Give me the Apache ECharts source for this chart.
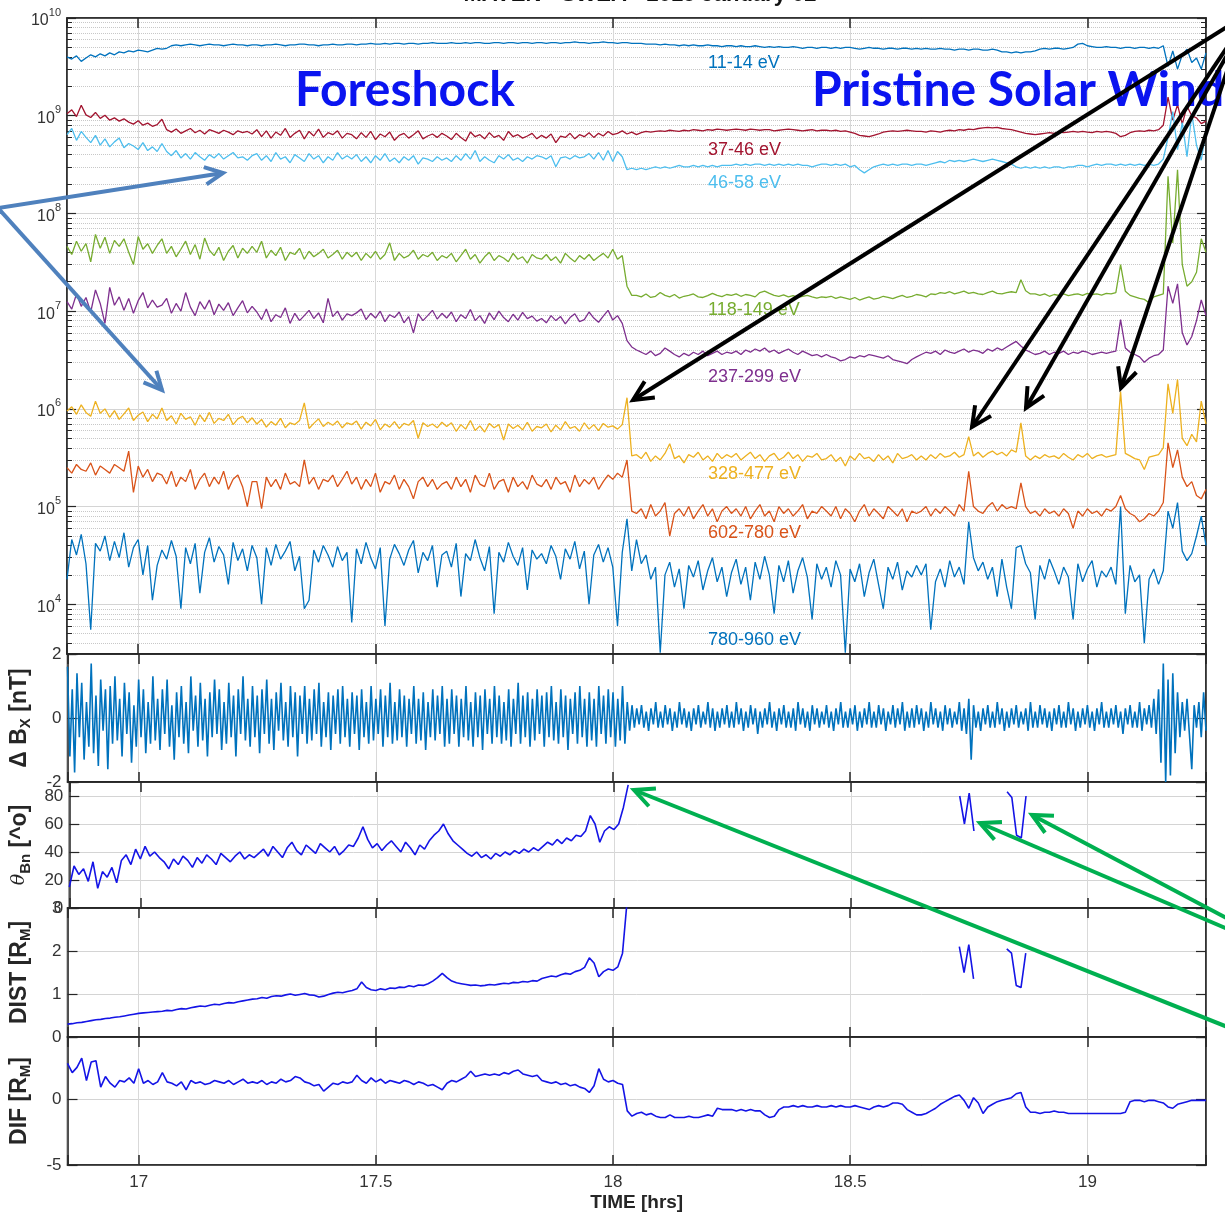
<!DOCTYPE html>
<html>
<head>
<meta charset="utf-8">
<script src="https://cdn.jsdelivr.net/npm/echarts@6/dist/echarts.min.js"></script>
<style>html,body{margin:0;padding:0;background:#fff}#main{width:1225px;height:1216px}</style>
</head>
<body>
<div id="main"></div>
<script>
// sampling of the time axis [hrs]
var T0 = 16.85;
var DT = 0.01;     // spectra, theta, dist, dif
var DT_B = 0.005;  // magnetic field

// SWEA energy flux, one list per energy band (units noted on each)
var flux11 = [ // x1e9
  4.0,3.8,4.1,3.6,3.9,4.2,4.0,4.3,4.1,4.4,4.2,4.5,4.4,4.6,4.5,4.7,4.6,4.5,4.7,4.9,
  4.8,4.9,5.2,5.3,5.2,5.3,5.4,5.3,5.2,5.3,5.4,5.3,5.3,5.2,5.3,5.4,5.3,5.3,5.2,5.3,
  5.3,5.2,5.3,5.3,5.4,5.3,5.2,5.3,5.3,5.4,5.4,5.3,5.3,5.2,5.3,5.3,5.4,5.3,5.3,5.4,
  5.4,5.3,5.4,5.4,5.5,5.4,5.4,5.5,5.4,5.5,5.5,5.4,5.5,5.5,5.4,5.5,5.5,5.6,5.5,5.5,
  5.5,5.6,5.5,5.5,5.6,5.5,5.6,5.6,5.5,5.5,5.6,5.6,5.5,5.6,5.6,5.5,5.6,5.6,5.5,5.6,
  5.6,5.5,5.6,5.6,5.5,5.6,5.6,5.7,5.6,5.6,5.5,5.6,5.6,5.7,5.6,5.6,5.5,5.6,5.6,5.5,
  5.5,5.5,5.4,5.4,5.4,5.3,5.4,5.3,5.3,5.2,5.3,5.2,5.3,5.2,5.2,5.3,5.2,5.2,5.1,5.2,
  5.2,5.1,5.2,5.1,5.1,5.2,5.1,5.0,5.1,5.0,5.1,5.0,5.0,5.1,5.0,4.9,5.0,5.0,4.9,5.0,
  5.0,4.9,5.0,4.9,5.0,5.0,4.9,4.8,4.9,5.0,4.9,4.9,4.8,4.9,4.9,4.8,4.9,4.9,4.8,4.9,
  4.8,4.9,4.8,4.8,4.9,4.8,4.8,4.7,4.8,4.8,4.7,4.8,4.8,4.7,4.7,4.8,4.7,4.5,4.5,4.4,
  4.5,4.4,4.5,4.5,4.6,4.8,4.9,4.8,4.9,4.9,4.8,4.9,5.0,5.4,5.5,5.2,5.1,5.0,5.0,5.1,
  5.0,5.0,4.9,5.0,5.0,4.9,5.0,5.0,4.9,5.0,4.9,5.2,3.2,4.6,3.0,4.2,4.8,3.5,3.9,3.0,
  4.4
];
var flux37 = [ // x1e8
  10.5,11.5,9.8,12.8,10.2,9.6,10.8,9.4,10.1,9.0,9.5,8.8,9.3,8.6,8.2,8.9,8.0,8.4,7.8,8.1,
  9.2,7.2,6.8,7.3,6.6,7.0,7.4,6.7,7.1,6.5,7.2,6.9,6.6,7.1,6.8,6.4,7.0,6.7,6.9,6.5,
  7.2,6.1,7.0,5.9,6.8,6.3,7.4,6.0,6.6,7.1,5.8,6.9,6.2,7.3,6.0,6.7,6.4,7.0,5.9,6.6,
  6.4,5.8,6.7,6.0,6.9,5.7,6.5,6.1,6.8,5.6,6.3,6.6,5.9,6.4,7.0,5.8,6.2,6.5,6.0,6.6,
  6.2,5.7,6.6,6.0,5.5,6.8,6.1,6.4,5.8,6.7,6.0,6.3,5.6,6.9,6.1,6.4,5.9,6.2,6.6,5.8,
  6.3,5.9,6.5,5.3,6.2,6.0,6.6,5.8,6.4,6.1,6.7,6.0,6.6,6.2,6.9,6.4,6.6,7.0,6.5,6.8,
  6.4,6.7,6.9,6.8,6.9,7.0,6.9,7.1,7.0,6.9,7.1,7.0,7.2,7.1,7.0,7.2,7.1,7.3,7.2,7.1,
  7.2,7.3,7.2,7.1,7.3,7.2,7.1,7.2,7.2,7.0,7.1,7.2,7.3,7.2,7.1,7.0,7.1,7.2,7.0,7.1,
  7.1,7.0,7.1,6.9,7.0,6.8,6.6,6.3,6.2,6.1,6.3,6.5,6.8,6.9,7.0,6.9,7.0,7.1,7.0,6.9,
  6.9,6.8,7.0,6.9,6.8,7.0,7.1,7.0,7.2,7.1,7.3,7.2,7.4,7.5,7.6,7.5,7.6,7.4,7.3,7.2,
  7.0,6.8,6.6,6.5,6.4,6.5,6.6,6.7,6.6,6.8,6.7,6.8,6.9,6.8,6.9,6.8,6.7,6.9,6.8,6.9,
  6.8,6.6,6.1,6.3,6.7,6.9,7.0,6.9,7.1,7.0,7.2,8.0,15.5,9.0,13.0,8.2,12.5,10.0,9.5,8.3,
  8.8
];
var flux46 = [ // x1e8
  6.4,7.4,5.6,6.9,6.0,5.3,6.3,5.0,5.8,4.8,5.4,5.9,4.7,5.2,4.9,4.5,5.3,4.4,4.8,4.3,
  5.2,4.3,3.9,4.4,3.7,4.1,3.6,4.2,3.8,3.5,4.0,3.7,4.1,3.6,3.9,4.2,3.7,3.8,3.5,3.9,
  4.1,3.5,3.9,3.4,4.2,3.6,3.8,3.3,4.0,3.7,3.4,4.1,3.6,3.9,3.3,3.8,3.5,4.2,3.6,3.9,
  3.6,4.0,3.4,3.8,3.3,3.9,3.5,4.1,3.4,3.7,3.3,3.8,3.5,3.9,3.2,3.7,3.6,3.4,3.8,3.5,
  3.7,3.4,3.9,3.5,4.1,3.6,4.4,3.4,3.8,3.5,3.3,3.9,3.6,4.0,3.5,3.7,3.4,3.8,3.6,3.9,
  3.8,3.6,3.9,3.0,3.7,3.8,3.6,3.9,3.7,3.8,4.1,3.6,4.2,3.5,4.4,3.4,4.3,3.8,2.8,2.9,
  2.8,2.9,2.8,2.9,3.0,2.9,3.0,2.9,3.0,3.1,3.0,3.0,3.1,3.0,3.1,3.0,3.1,3.0,3.1,3.1,
  3.1,3.2,3.1,3.2,3.1,3.2,3.2,3.1,3.2,3.1,3.2,3.1,3.2,3.1,3.2,3.1,3.1,3.0,3.1,3.2,
  3.2,3.1,3.2,3.1,3.2,3.0,3.1,2.8,2.6,2.8,3.0,3.1,3.2,3.1,3.2,3.1,3.2,3.2,3.1,3.2,
  3.2,3.1,3.2,3.3,3.4,3.3,3.5,3.4,3.5,3.4,3.5,3.6,3.5,3.4,3.5,3.6,3.5,3.4,3.3,3.2,
  3.0,2.9,3.0,2.9,3.0,2.9,3.0,2.9,3.0,3.0,2.9,3.0,3.0,3.1,3.1,3.0,3.1,3.2,3.1,3.2,
  3.2,3.1,3.2,3.1,3.2,3.1,3.2,3.1,3.2,3.1,3.2,3.6,6.0,11.0,4.5,8.5,3.8,10.5,5.0,3.5,
  7.0
];
var flux118 = [ // x1e7
  4.6,3.8,5.2,4.1,4.9,3.2,6.1,4.4,5.7,3.9,5.3,4.6,5.5,4.0,3.0,5.8,4.3,4.9,3.9,4.7,
  5.5,3.9,4.6,3.6,4.3,5.2,3.8,4.8,3.4,5.6,4.2,3.7,4.5,3.3,4.1,4.7,3.5,4.4,3.9,4.6,
  4.0,5.2,3.5,4.2,3.7,4.5,3.3,4.0,3.8,4.4,3.4,4.1,3.6,3.9,4.3,3.5,3.8,4.2,3.4,4.0,
  3.6,4.0,3.3,3.9,3.5,4.1,3.4,3.8,5.0,3.3,3.9,3.5,3.7,4.2,3.4,3.8,3.6,4.0,3.3,3.7,
  3.5,3.9,3.2,3.7,4.3,3.4,3.8,3.1,3.6,4.0,3.3,3.7,3.5,3.2,3.9,3.4,3.6,3.1,3.8,3.5,
  3.4,3.8,3.3,3.6,3.1,3.9,3.5,3.2,3.7,3.4,3.8,3.3,3.6,3.9,3.5,4.3,3.4,3.7,1.8,1.45,
  1.45,1.4,1.5,1.38,1.42,1.55,1.45,1.4,1.48,1.36,1.42,1.45,1.5,1.4,1.38,1.44,1.52,1.45,1.41,1.48,
  1.45,1.5,1.42,1.48,1.45,1.4,1.55,1.6,1.52,1.45,1.42,1.47,1.4,1.44,1.38,1.42,1.45,1.4,1.36,1.4,
  1.38,1.42,1.35,1.4,1.36,1.32,1.38,1.3,1.35,1.4,1.33,1.36,1.42,1.38,1.34,1.4,1.45,1.38,1.42,1.48,
  1.45,1.4,1.5,1.48,1.55,1.52,1.58,1.5,1.55,1.6,1.52,1.56,1.5,1.48,1.55,1.6,1.52,1.5,1.55,1.58,
  1.55,2.1,1.62,1.5,1.5,1.45,1.5,1.42,1.48,1.45,1.5,1.44,1.48,1.5,1.45,1.52,1.48,1.5,1.46,1.52,
  1.5,1.55,3.0,1.6,1.45,1.4,1.35,1.32,1.22,1.4,1.45,1.5,24,5.0,28,3.0,1.8,2.0,2.5,5.5,
  4.0
];
var flux237 = [ // x1e6
  12.5,10.5,15.0,11.2,13.8,9.8,16.5,12.0,7.5,17.5,11.5,14.0,10.2,13.5,9.5,12.8,15.5,10.8,13.0,11.0,
  11.5,13.5,9.5,12.0,10.0,15.5,11.0,9.0,12.5,10.5,13.0,9.2,11.8,10.2,12.2,9.0,10.8,12.8,9.6,11.2,
  9.8,8.2,10.5,7.8,9.2,8.6,10.8,7.5,9.5,8.0,9.0,10.2,8.4,9.6,7.6,13.5,8.8,10.0,8.1,9.4,
  9.0,9.6,10.5,8.2,9.5,8.5,10.0,7.8,9.2,8.6,9.8,7.6,8.8,6.0,9.4,8.0,9.0,10.2,8.3,9.5,
  8.5,9.8,7.8,9.2,8.4,10.4,8.0,9.0,7.5,9.6,8.2,10.0,8.6,7.8,9.3,8.1,9.7,8.4,8.9,7.9,
  8.4,7.6,9.0,8.0,8.8,7.4,8.6,9.4,7.8,8.2,9.8,8.5,7.7,8.9,10.2,8.1,9.0,7.5,5.0,4.3,
  4.0,3.8,3.6,3.9,3.5,3.7,4.2,3.9,3.6,3.4,3.7,3.5,3.8,3.6,3.9,3.5,3.7,3.9,3.6,3.8,
  3.7,3.9,3.6,4.0,3.8,4.1,3.9,4.2,3.8,4.0,3.7,3.9,4.1,3.8,3.6,3.9,3.7,3.5,3.6,3.4,
  3.6,3.4,3.3,3.1,3.2,3.4,3.3,3.5,3.4,3.6,3.5,3.4,3.3,3.5,3.2,3.1,3.0,2.9,3.2,3.4,
  3.6,3.8,3.7,3.9,3.6,4.0,3.8,3.7,3.9,4.1,3.8,4.0,3.9,3.7,4.1,3.9,4.2,4.0,4.3,4.6,
  4.9,4.4,4.0,3.8,3.6,3.7,3.9,3.6,3.8,3.7,3.9,3.6,3.8,3.7,3.9,3.8,3.6,3.7,3.8,3.7,
  3.8,3.9,8.2,4.2,3.8,3.6,3.4,3.0,3.3,3.5,3.6,4.0,18.0,12.0,19.0,6.0,4.5,5.5,8.0,13.0,
  9.0
];
var flux328 = [ // x1e5
  9.5,10.5,8.8,11.0,9.2,8.4,12.0,9.0,10.0,8.2,9.6,7.8,8.9,10.2,7.6,8.6,9.3,7.4,8.8,7.9,
  10.2,7.6,8.5,7.0,9.0,7.8,8.3,6.8,8.7,7.4,9.2,7.1,8.0,7.6,8.8,6.9,7.9,8.4,7.2,8.1,
  7.0,7.8,6.5,7.4,6.8,8.0,6.4,7.2,6.9,7.6,11.5,6.3,7.1,7.9,6.6,7.3,6.8,7.5,6.4,7.2,
  6.9,7.5,6.2,7.3,6.7,7.8,6.1,7.0,6.5,7.4,6.3,7.1,6.8,7.6,5.0,7.2,6.6,7.0,6.4,7.3,
  6.6,7.2,5.9,6.9,6.2,7.6,6.0,6.7,5.8,7.1,6.4,6.9,4.8,7.0,6.3,6.8,6.1,7.3,5.9,6.6,
  6.4,7.0,5.8,6.8,6.1,7.4,6.3,6.6,5.9,7.2,6.2,6.9,6.0,7.1,6.5,6.7,6.2,6.9,13.0,3.3,
  3.4,3.1,3.6,2.9,3.3,3.0,3.5,4.4,3.1,3.3,2.8,3.4,3.2,3.6,3.0,3.3,2.9,3.5,3.1,3.4,
  3.2,3.5,3.0,3.3,3.6,3.1,3.4,2.9,3.3,3.5,3.0,3.2,3.6,3.1,3.4,2.9,3.3,3.2,3.5,3.0,
  3.1,3.4,2.9,3.2,2.6,3.3,3.0,3.5,3.1,3.2,2.9,3.4,3.0,3.3,2.8,3.5,3.1,3.2,3.4,3.0,
  3.3,3.0,3.4,3.1,3.5,3.2,3.3,3.6,3.2,3.4,5.2,3.3,3.6,3.2,3.5,3.7,3.4,3.6,3.3,3.8,
  3.6,7.2,3.3,3.0,3.3,3.1,3.4,3.2,3.3,3.1,3.5,3.2,3.0,3.4,3.2,3.5,3.1,3.3,3.4,3.2,
  3.3,3.4,15.0,3.5,3.3,3.1,3.0,2.4,3.2,3.3,3.4,4.0,18.0,9.0,20.0,5.0,4.2,5.5,4.6,12.0,
  7.0
];
var flux602 = [ // x1e5
  2.5,2.2,2.7,2.4,2.3,2.8,2.1,2.6,2.4,2.2,2.7,2.5,2.3,3.7,1.4,2.6,2.0,2.4,1.8,2.2,
  2.1,1.7,2.3,1.6,2.0,1.8,2.4,1.5,1.9,2.2,1.6,2.0,1.7,2.3,1.5,1.9,2.1,1.6,1.0,1.8,
  1.8,0.95,2.0,1.6,1.9,1.5,2.2,1.7,1.8,1.6,3.0,1.7,2.0,1.5,1.9,1.8,2.1,1.6,1.9,2.3,
  1.7,2.0,1.5,1.9,1.6,2.2,1.4,1.8,1.7,2.1,1.5,1.9,1.6,1.2,1.8,2.0,1.6,1.9,1.5,1.7,
  1.8,1.5,2.0,1.6,1.9,1.4,2.1,1.7,1.6,2.2,1.5,1.8,1.9,1.4,2.0,1.6,1.8,1.5,2.1,1.7,
  1.6,1.9,1.5,2.0,1.7,1.8,1.4,2.1,1.6,1.9,1.7,2.0,1.5,1.8,2.1,1.9,2.2,2.0,3.0,0.9,
  0.85,0.95,0.75,1.05,0.8,0.9,1.1,0.5,0.85,0.95,0.8,1.0,0.75,0.9,1.05,0.8,0.95,0.7,0.9,1.0,
  0.85,0.95,0.8,1.0,0.75,0.9,1.05,0.8,0.9,0.7,1.0,0.85,0.95,0.8,0.9,1.05,0.75,0.9,0.85,1.0,
  0.9,0.8,1.0,0.75,0.95,0.85,0.7,0.9,1.05,0.8,0.95,0.85,0.75,1.0,0.9,0.8,0.95,0.7,0.9,0.85,
  0.9,1.0,0.8,0.95,0.85,1.0,0.9,0.8,1.05,0.9,2.3,1.0,0.9,0.85,1.0,1.1,0.9,1.05,0.95,1.0,
  0.95,1.75,1.0,0.85,0.9,0.8,0.95,0.85,0.9,0.8,0.95,0.85,0.6,0.9,0.8,0.95,0.85,0.9,0.8,0.95,
  0.9,1.0,1.3,0.95,0.85,0.8,0.7,0.75,0.85,0.8,0.9,1.1,4.5,2.5,3.8,2.0,1.6,1.8,1.3,1.2,
  1.5
];
var flux780 = [ // x1e4
  1.8,4.6,3.2,5.2,2.6,0.55,4.2,3.5,5.0,2.8,4.4,3.0,5.4,2.4,3.8,4.6,2.0,4.0,1.1,2.5,
  3.6,2.9,4.5,3.1,0.9,3.8,2.6,4.2,1.3,3.4,4.8,2.7,3.9,3.2,1.6,4.3,2.8,3.7,2.2,4.0,
  3.0,1.0,3.8,2.5,4.1,2.9,3.5,4.4,2.2,3.1,0.9,1.1,3.6,2.7,4.0,3.2,2.4,3.9,2.8,3.4,
  0.65,3.7,2.6,4.3,3.0,2.3,3.8,0.6,2.9,4.1,3.3,2.5,3.6,4.5,2.1,3.4,2.8,4.0,1.5,3.2,
  3.5,2.4,4.2,1.2,3.3,2.8,4.6,3.0,2.2,3.9,0.8,3.4,2.7,4.3,3.1,2.5,3.8,1.4,3.6,2.9,
  3.3,2.6,4.0,3.1,1.8,3.7,2.9,4.4,2.3,3.5,1.0,3.2,4.1,2.7,3.8,2.4,0.6,3.4,7.5,2.2,
  4.6,2.6,3.2,1.8,2.4,0.32,2.0,2.7,1.5,2.3,0.9,2.5,1.9,2.8,1.4,2.2,3.0,1.7,2.4,1.2,
  2.1,2.9,1.6,2.4,1.1,2.7,1.8,3.1,2.0,0.8,2.5,1.7,2.8,1.3,2.2,3.0,1.9,0.7,2.6,1.8,
  2.4,1.5,2.8,2.0,0.32,2.3,1.7,2.6,1.2,2.1,2.9,1.6,0.9,2.4,1.8,2.7,1.4,2.2,1.9,2.5,
  2.0,2.6,0.55,1.7,2.3,1.5,2.8,1.9,2.4,1.6,7.0,3.0,2.2,2.7,1.8,2.4,1.2,2.9,1.5,0.9,
  3.8,4.0,2.6,2.1,0.7,2.5,1.8,2.9,2.2,1.6,2.4,1.9,0.7,2.6,1.7,2.3,2.8,1.5,2.2,1.9,
  2.4,1.6,10.0,0.8,2.5,1.7,2.0,0.4,1.8,2.3,1.6,2.2,9.0,6.0,11.0,3.5,2.8,3.3,5.0,8.0,
  4.0
];

// magnetic field fluctuation Delta Bx [nT]
var deltaBx = [
  1.6,-1.2,0.9,-1.7,1.4,-0.6,1.1,-1.3,0.5,-0.9,1.7,-1.1,0.7,-1.5,1.2,-0.4,0.9,-1.6,1.0,-0.8,
  1.3,-0.7,0.6,-1.2,1.1,-0.5,0.8,-1.4,0.4,-0.9,1.2,-0.6,0.9,-1.1,0.5,-0.8,1.3,-0.7,0.6,-1.0,
  0.9,-0.5,1.2,-0.9,0.4,-1.3,0.8,-0.6,1.0,-0.8,0.5,-1.1,1.3,-0.4,0.7,-0.9,1.1,-0.7,0.6,-1.2,
  0.8,-0.6,1.2,-0.5,0.9,-1.0,0.5,-0.8,1.1,-0.6,0.7,-1.2,0.9,-0.5,1.3,-0.7,0.6,-0.9,1.0,-0.6,
  0.7,-1.1,0.9,-0.5,1.2,-0.8,0.6,-1.0,0.8,-0.4,1.1,-0.7,0.5,-0.9,1.0,-0.6,0.8,-1.2,0.7,-0.5,
  1.0,-0.8,0.6,-0.7,0.9,-0.5,1.1,-0.9,0.5,-0.6,0.8,-1.0,0.7,-0.5,0.9,-0.8,1.0,-0.6,0.6,-0.9,
  0.8,-0.5,0.7,-1.0,0.9,-0.6,0.5,-0.8,1.0,-0.7,0.6,-0.5,0.9,-0.9,0.7,-0.6,1.1,-0.8,0.5,-0.7,
  0.9,-0.6,0.7,-0.9,0.6,-0.5,1.0,-0.8,0.6,-0.7,0.8,-1.0,0.5,-0.6,0.9,-0.7,0.7,-0.5,1.0,-0.9,
  0.6,-0.8,0.9,-0.5,0.7,-0.9,0.6,-0.6,1.0,-0.7,0.5,-0.9,0.8,-0.6,0.7,-1.0,0.9,-0.5,0.6,-0.8,
  1.0,-0.6,0.7,-0.8,0.5,-0.7,0.9,-0.9,0.6,-0.5,1.1,-0.8,0.7,-0.6,0.8,-0.9,0.6,-0.7,0.9,-0.5,
  0.7,-0.9,0.8,-0.6,1.0,-0.7,0.5,-0.8,0.9,-0.6,0.7,-1.0,0.6,-0.5,0.8,-0.8,1.0,-0.6,0.6,-0.9,
  0.8,-0.7,0.6,-0.9,1.0,-0.5,0.7,-0.8,0.9,-0.6,0.8,-0.9,0.6,-0.7,1.0,-0.8,0.5,-0.4,0.4,-0.3,
  0.3,-0.2,0.4,-0.3,0.2,-0.4,0.3,-0.2,0.5,-0.3,0.2,-0.3,0.4,-0.2,0.3,-0.4,0.2,-0.3,0.5,-0.2,
  0.3,-0.3,0.2,-0.4,0.3,-0.2,0.4,-0.3,0.2,-0.2,0.5,-0.3,0.3,-0.4,0.2,-0.3,0.3,-0.2,0.4,-0.3,
  0.2,-0.3,0.5,-0.2,0.3,-0.4,0.2,-0.3,0.4,-0.2,0.3,-0.5,0.2,-0.3,0.3,-0.2,0.5,-0.3,0.2,-0.4,
  0.3,-0.2,0.4,-0.3,0.2,-0.3,0.3,-0.4,0.5,-0.2,0.3,-0.3,0.2,-0.4,0.4,-0.2,0.3,-0.3,0.2,-0.2,
  0.4,-0.3,0.2,-0.4,0.3,-0.2,0.5,-0.3,0.2,-0.3,0.3,-0.2,0.4,-0.4,0.2,-0.3,0.3,-0.2,0.5,-0.3,
  0.2,-0.3,0.4,-0.2,0.3,-0.4,0.2,-0.2,0.4,-0.3,0.3,-0.2,0.5,-0.4,0.2,-0.3,0.3,-0.3,0.4,-0.2,
  0.3,-0.4,0.2,-0.3,0.5,-0.2,0.3,-0.3,0.2,-0.4,0.4,-0.2,0.3,-0.3,0.2,-0.2,0.5,-0.4,0.3,-0.5,
  0.6,-1.3,0.4,-0.3,0.2,-0.4,0.3,-0.2,0.4,-0.3,0.2,-0.3,0.5,-0.2,0.3,-0.4,0.2,-0.3,0.3,-0.2,
  0.4,-0.3,0.2,-0.2,0.3,-0.4,0.5,-0.3,0.2,-0.3,0.4,-0.2,0.3,-0.3,0.2,-0.4,0.3,-0.2,0.4,-0.3,
  0.2,-0.3,0.5,-0.2,0.3,-0.4,0.2,-0.3,0.3,-0.2,0.4,-0.3,0.2,-0.4,0.3,-0.2,0.5,-0.3,0.2,-0.3,
  0.3,-0.2,0.4,-0.3,0.2,-0.5,0.3,-0.2,0.4,-0.3,0.2,-0.3,0.5,-0.4,0.3,-0.2,0.4,-0.3,0.6,-0.5,
  0.9,-1.4,1.7,-2.0,1.2,-1.8,1.4,-1.1,0.8,-0.6,0.5,-0.4,0.6,-0.5,-1.6,0.4,-0.3,0.5,-0.6,0.8,
  -0.4
];

// shock normal angle theta_Bn [deg]
var thetaBn = [
  15,30,24,28,19,33,14,26,22,29,18,34,38,31,42,35,44,37,40,36,
  33,28,35,31,37,34,29,36,32,38,35,31,39,36,33,37,40,35,38,36,
  39,42,37,44,40,36,43,47,41,38,45,42,39,46,43,40,44,38,41,45,
  44,50,58,49,43,46,41,45,48,44,40,47,43,38,45,42,48,52,55,60,
  53,48,45,42,39,37,40,36,38,35,39,37,40,38,41,39,42,40,43,41,
  44,47,45,49,46,50,48,52,51,55,66,60,47,55,58,56,60,72,88,null,
  null,null,null,null,null,null,null,null,null,null,null,null,null,null,null,null,null,null,null,null,
  null,null,null,null,null,null,null,null,null,null,null,null,null,null,null,null,null,null,null,null,
  null,null,null,null,null,null,null,null,null,null,null,null,null,null,null,null,null,null,null,null,
  null,null,null,null,null,null,null,null,80,60,82,55,null,null,null,null,null,null,83,79,
  52,50,80,null,null,null,null,null,null,null,null,null,null,null,null,null,null,null,null,null,
  null,null,null,null,null,null,null,null,null,null,null,null,null,null,null,null,null,null,null,null,
  null
];

// distance to the bow shock [R_M]
var dist = [
  0.30,0.31,0.33,0.34,0.36,0.38,0.40,0.41,0.43,0.44,0.46,0.47,0.49,0.51,0.53,0.55,0.56,0.57,0.58,0.59,
  0.60,0.62,0.61,0.64,0.66,0.65,0.68,0.70,0.72,0.71,0.74,0.76,0.75,0.78,0.80,0.79,0.82,0.84,0.86,0.88,
  0.89,0.92,0.90,0.94,0.96,0.95,0.98,1.00,0.97,0.99,1.01,0.98,0.97,0.93,0.95,0.99,1.02,1.04,1.03,1.06,
  1.08,1.12,1.28,1.15,1.10,1.08,1.12,1.10,1.14,1.13,1.16,1.15,1.19,1.17,1.21,1.20,1.24,1.30,1.38,1.48,
  1.38,1.30,1.26,1.24,1.22,1.20,1.21,1.19,1.20,1.22,1.21,1.23,1.25,1.24,1.27,1.26,1.29,1.28,1.31,1.30,
  1.36,1.39,1.42,1.40,1.45,1.48,1.46,1.52,1.55,1.62,1.84,1.72,1.40,1.52,1.58,1.55,1.63,1.95,3.2,null,
  null,null,null,null,null,null,null,null,null,null,null,null,null,null,null,null,null,null,null,null,
  null,null,null,null,null,null,null,null,null,null,null,null,null,null,null,null,null,null,null,null,
  null,null,null,null,null,null,null,null,null,null,null,null,null,null,null,null,null,null,null,null,
  null,null,null,null,null,null,null,null,2.1,1.5,2.15,1.35,null,null,null,null,null,null,2.05,1.95,
  1.2,1.15,1.95,null,null,null,null,null,null,null,null,null,null,null,null,null,null,null,null,null,
  null,null,null,null,null,null,null,null,null,null,null,null,null,null,null,null,null,null,null,null,
  null
];

// DIF [R_M]
var dif = [
  2.7,2.0,2.4,3.1,1.4,2.8,2.9,0.9,1.7,1.2,0.9,1.4,1.3,1.6,1.2,2.3,1.2,1.4,1.1,1.3,
  2.0,1.3,1.2,1.0,1.3,0.7,1.4,1.2,1.3,1.1,1.2,1.4,1.3,1.2,1.4,1.1,1.3,1.5,1.2,1.3,
  1.2,1.4,1.1,1.3,1.2,1.5,1.3,1.4,1.7,1.6,1.3,1.2,1.0,1.1,0.6,0.9,1.2,1.1,1.3,1.2,
  1.3,1.8,1.4,1.2,1.6,1.3,1.5,1.2,1.4,1.3,1.2,1.4,1.3,1.1,1.3,1.2,1.0,1.1,0.9,0.7,
  1.2,1.4,1.3,1.5,1.7,2.1,1.7,1.8,1.9,1.8,1.9,1.8,2.0,1.9,2.1,2.2,1.9,1.8,1.7,1.8,
  1.4,1.3,1.2,1.3,1.1,1.2,1.0,1.1,0.9,0.8,0.5,1.0,2.3,1.5,1.3,1.4,1.2,1.1,-0.9,-1.3,
  -1.1,-1.0,-1.2,-1.1,-1.3,-1.4,-1.4,-1.2,-1.4,-1.4,-1.4,-1.3,-1.4,-1.4,-1.3,-1.2,-1.3,-0.7,-0.8,-0.8,
  -0.8,-0.9,-0.8,-0.9,-0.8,-0.9,-0.9,-1.2,-1.4,-1.3,-0.8,-0.6,-0.6,-0.5,-0.6,-0.5,-0.6,-0.6,-0.5,-0.6,
  -0.6,-0.5,-0.6,-0.5,-0.6,-0.6,-0.5,-0.6,-0.7,-0.8,-0.6,-0.5,-0.6,-0.5,-0.3,-0.3,-0.4,-0.8,-1.0,-1.2,
  -1.2,-1.1,-0.9,-0.7,-0.4,-0.2,0.0,0.2,0.3,-0.1,-0.7,0.1,-0.3,-1.1,-0.6,-0.4,-0.2,-0.1,0.0,0.1,
  0.4,0.5,-0.6,-1.0,-1.0,-1.1,-1.0,-1.0,-0.9,-1.0,-1.0,-1.1,-1.1,-1.1,-1.1,-1.1,-1.1,-1.1,-1.1,-1.1,
  -1.1,-1.1,-1.1,-1.0,-0.2,-0.1,-0.1,-0.2,-0.1,-0.1,-0.2,-0.3,-0.6,-0.7,-0.4,-0.3,-0.2,-0.1,-0.1,-0.1,
  -0.1
];

var bandNames = ['11-14 eV', '37-46 eV', '46-58 eV', '118-149 eV', '237-299 eV', '328-477 eV', '602-780 eV', '780-960 eV'];
var bandData = [flux11, flux37, flux46, flux118, flux237, flux328, flux602, flux780];
var bandUnits = [1e9, 1e8, 1e8, 1e7, 1e6, 1e5, 1e5, 1e4];
var bandColors = ['#0072bd', '#a2142f', '#4dbeee', '#77ac30', '#7e2f8e', '#edb120', '#d95319', '#0072bd'];

var chart = echarts.init(document.getElementById('main'));
var FONT = "'Liberation Sans Narrow','Liberation Sans',Arial,sans-serif";
var INK = '#262626';

function pts(vals, dt, unit) {
  return vals.map(function (v, i) {
    return [Math.round((T0 + i * dt) * 1000) / 1000, v === null ? '-' : v * unit];
  });
}
function halfHour(v) {
  return Math.abs(v * 2 - Math.round(v * 2)) < 1e-6 ? String(v) : '';
}
function pow10(v) {
  var e = Math.log10(v), r = Math.round(e);
  return Math.abs(e - r) < 1e-6 ? '{b|10}{e|' + r + '}' : '';
}
function multipleOf(step) {
  return function (v) { return Math.abs(v / step - Math.round(v / step)) < 1e-6 ? String(v) : ''; };
}

// panel boxes: [top, height]
var panels = [[18, 636], [654, 128], [782, 126], [908, 129], [1037, 128]];
var grids = panels.map(function (p) {
  return {left: 67, right: 19, top: p[0], height: p[1], show: true, borderColor: INK, borderWidth: 1.5};
});

var xAxes = [];
panels.forEach(function (p, i) {
  xAxes.push({
    gridIndex: i, type: 'value', min: 16.85, max: 19.25, splitNumber: 5, position: 'bottom',
    axisLine: {onZero: false, lineStyle: {color: INK, width: 1.5}},
    axisTick: {inside: true, length: 10, lineStyle: {color: INK, width: 1.5}},
    axisLabel: {show: i === 4, formatter: halfHour, fontFamily: FONT, fontSize: 17, color: '#333', margin: 9},
    splitLine: {show: true, lineStyle: {color: '#d9d9d9'}},
    name: i === 4 ? 'TIME [hrs]' : '', nameLocation: 'middle', nameGap: 28,
    nameTextStyle: {fontFamily: FONT, fontSize: 19, fontWeight: 'bold', color: INK}
  });
});
panels.forEach(function (p, i) {
  xAxes.push({
    gridIndex: i, type: 'value', min: 16.85, max: 19.25, splitNumber: 5, position: 'top',
    axisLine: {onZero: false, lineStyle: {color: INK, width: 1.5}},
    axisTick: {inside: true, length: 10, lineStyle: {color: INK, width: 1.5}},
    axisLabel: {show: false}, splitLine: {show: false}
  });
});

var labelStyle = {fontFamily: FONT, fontSize: 17, color: '#333', margin: 6};
var nameStyle = {
  rich: {
    n: {fontFamily: FONT, fontSize: 23, fontWeight: 'bold', color: INK, lineHeight: 28, verticalAlign: 'middle'},
    i: {fontFamily: 'DejaVu Serif, serif', fontSize: 19, fontStyle: 'italic', color: INK, lineHeight: 28, verticalAlign: 'middle'},
    s: {fontFamily: FONT, fontSize: 15, fontWeight: 'bold', color: INK, lineHeight: 20, verticalAlign: 'bottom'}
  }
};
var yDefs = [
  {type: 'log', logBase: 10, min: 3100, max: 1e10},
  {type: 'value', min: -2, max: 2, interval: 2, name: '{n|\u0394 B}{s|X}{n| [nT]}'},
  {type: 'value', min: 0, max: 90, interval: 20, name: '{i|\u03b8}{s|Bn}{n| [^o]}'},
  {type: 'value', min: 0, max: 3, interval: 1, name: '{n|DIST [R}{s|M}{n|]}'},
  {type: 'value', min: -5, max: 4.7, interval: 5, name: '{n|DIF [R}{s|M}{n|]}'}
];
var yAxes = [];
yDefs.forEach(function (d, i) {
  var isLog = d.type === 'log';
  var ax = {
    gridIndex: i, type: d.type, min: d.min, max: d.max, position: 'left',
    axisLine: {show: true, onZero: false, lineStyle: {color: INK, width: 1.5}},
    axisTick: {show: true, inside: true, length: isLog ? 9 : 10, lineStyle: {color: INK, width: 1.2}},
    splitLine: {show: true, lineStyle: {color: '#d4d4d4'}},
    axisLabel: Object.assign({}, labelStyle, {formatter: isLog ? pow10 : multipleOf(d.interval)})
  };
  if (isLog) {
    ax.logBase = 10;
    ax.minorTick = {show: true, splitNumber: 9, length: 5, lineStyle: {color: INK}};
    ax.minorSplitLine = {show: true, lineStyle: {color: '#c8c8c8', type: 'dotted'}};
    ax.axisLabel.rich = {
      b: {fontFamily: FONT, fontSize: 16, color: '#333', lineHeight: 22, verticalAlign: 'bottom'},
      e: {fontFamily: FONT, fontSize: 11, color: '#333', lineHeight: 22, verticalAlign: 'top'}
    };
  } else {
    ax.interval = d.interval;
    ax.name = d.name;
    ax.nameLocation = 'middle';
    ax.nameGap = 34;
    ax.nameRotate = 90;
    ax.nameTextStyle = nameStyle;
  }
  yAxes.push(ax);
});
yDefs.forEach(function (d, i) {
  var isLog = d.type === 'log';
  var ax = {
    gridIndex: i, type: d.type, min: d.min, max: d.max, position: 'right',
    axisLine: {show: true, onZero: false, lineStyle: {color: INK, width: 1.5}},
    axisTick: {show: true, inside: true, length: isLog ? 9 : 10, lineStyle: {color: INK, width: 1.2}},
    axisLabel: {show: false}, splitLine: {show: false}
  };
  if (isLog) {
    ax.logBase = 10;
    ax.minorTick = {show: true, splitNumber: 9, length: 5, lineStyle: {color: INK}};
  } else {
    ax.interval = d.interval;
  }
  yAxes.push(ax);
});

var series = bandData.map(function (arr, k) {
  return {
    name: bandNames[k], type: 'line', xAxisIndex: 0, yAxisIndex: 0, showSymbol: false,
    lineStyle: {width: 1.3, color: bandColors[k]}, itemStyle: {color: bandColors[k]},
    data: pts(arr, DT, bandUnits[k])
  };
});
series.push({name: 'dBx', type: 'line', xAxisIndex: 1, yAxisIndex: 1, showSymbol: false,
  lineStyle: {width: 1.6, color: '#0072bd'}, data: pts(deltaBx, DT_B, 1)});
series.push({name: 'thetaBn', type: 'line', xAxisIndex: 2, yAxisIndex: 2, showSymbol: false, connectNulls: false,
  lineStyle: {width: 1.6, color: '#1414e6'}, data: pts(thetaBn, DT, 1)});
series.push({name: 'dist', type: 'line', xAxisIndex: 3, yAxisIndex: 3, showSymbol: false, connectNulls: false,
  lineStyle: {width: 1.6, color: '#1414e6'}, data: pts(dist, DT, 1)});
series.push({name: 'dif', type: 'line', xAxisIndex: 4, yAxisIndex: 4, showSymbol: false,
  lineStyle: {width: 1.6, color: '#1414e6'}, data: pts(dif, DT, 1)});

// slide annotations
function arrow(x1, y1, x2, y2, color, w, head) {
  var a = Math.atan2(y2 - y1, x2 - x1), s = 0.45;
  return [
    {type: 'line', z: 100, shape: {x1: x1, y1: y1, x2: x2, y2: y2}, style: {stroke: color, lineWidth: w}},
    {type: 'polyline', z: 100, shape: {points: [
      [x2 - head * Math.cos(a - s), y2 - head * Math.sin(a - s)], [x2, y2],
      [x2 - head * Math.cos(a + s), y2 - head * Math.sin(a + s)]]},
      style: {stroke: color, lineWidth: w, fill: null, lineJoin: 'miter'}}
  ];
}
var labelY = [63, 150, 183, 310, 377, 474, 533, 640];
var elements = bandNames.map(function (n, k) {
  return {type: 'text', z: 90, x: 708, y: labelY[k],
    style: {text: n, fill: bandColors[k], fontFamily: FONT, fontSize: 18, verticalAlign: 'middle'}};
});
elements.push({type: 'text', z: 90, x: 640, y: 6,
  style: {text: 'MAVEN - SWEA - 2015 January 02', fill: '#111', fontFamily: FONT, fontSize: 22, fontWeight: 'bold', align: 'center', verticalAlign: 'bottom'}});
elements.push({type: 'text', z: 95, x: 295, y: 91,
  style: {text: 'Foreshock', fill: '#0a14f0', fontFamily: 'Lato, sans-serif', fontSize: 48, fontWeight: 'bold', verticalAlign: 'middle'}});
elements.push({type: 'text', z: 95, x: 812, y: 91,
  style: {text: 'Pristine Solar Wind', fill: '#0a14f0', fontFamily: 'Lato, sans-serif', fontSize: 48, fontWeight: 'bold', verticalAlign: 'middle'}});
[
  [-2, 208, 223, 173], [-2, 208, 162, 390]
].forEach(function (a) { elements = elements.concat(arrow(a[0], a[1], a[2], a[3], '#4f81bd', 4, 20)); });
[
  [1230, 25, 633, 400], [1230, 43, 972, 427], [1230, 50, 1026, 408], [1230, 62, 1121, 388]
].forEach(function (a) { elements = elements.concat(arrow(a[0], a[1], a[2], a[3], '#000', 4, 22)); });
[
  [1230, 1028, 634, 790], [1230, 930, 980, 823], [1230, 920, 1032, 815]
].forEach(function (a) { elements = elements.concat(arrow(a[0], a[1], a[2], a[3], '#00b050', 4, 22)); });

var option = {
  animation: false,
  backgroundColor: '#fff',
  grid: grids,
  xAxis: xAxes,
  yAxis: yAxes,
  series: series,
  graphic: {elements: elements}
};
chart.setOption(option);
</script>
</body>
</html>
